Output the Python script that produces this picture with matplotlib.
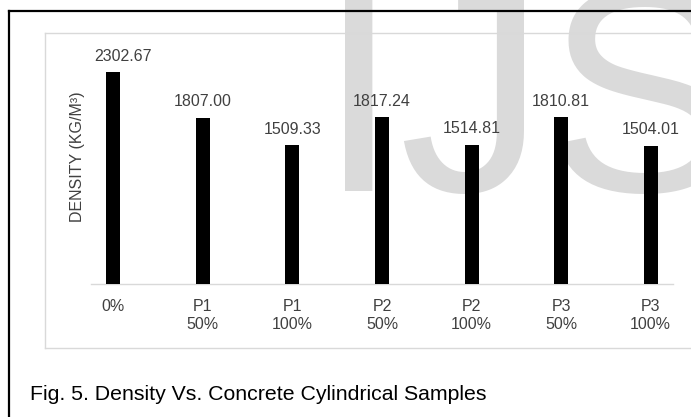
import matplotlib
matplotlib.use("Agg")
import matplotlib.pyplot as plt
from matplotlib.lines import Line2D

categories = ["0%", "P1\n50%", "P1\n100%", "P2\n50%", "P2\n100%", "P3\n50%", "P3\n100%"]
density = [2302.67, 1807.00, 1509.33, 1817.24, 1514.81, 1810.81, 1504.01]
value_labels = ["2302.67", "1807.00", "1509.33", "1817.24", "1514.81", "1810.81", "1504.01"]
y_label = "DENSITY (KG/M³)"
caption = "Fig. 5. Density Vs. Concrete Cylindrical Samples"
watermark = "IJS"

W, H = 691, 417
FONT = "Liberation Sans"
plt.rcParams["font.family"] = [FONT, "DejaVu Sans"]

fig = plt.figure(figsize=(W / 100, H / 100), dpi=100)
fig.patch.set_facecolor("white")

def fx(px):
    return px / W

def fy(py):
    return 1 - py / H

# watermark behind everything
fig.text(fx(318), fy(191), watermark, fontsize=211, color="#dadada",
         ha="left", va="baseline", zorder=-10, family=FONT)

# outer black frame (left and top visible)
fig.add_artist(Line2D([fx(9), fx(9)], [fy(11), fy(H + 5)], color="black", lw=1.6, zorder=5))
fig.add_artist(Line2D([fx(9), fx(W + 5)], [fy(11), fy(11)], color="black", lw=1.6, zorder=5))

# inner light-gray chart box
box_c = "#d9d9d9"
fig.add_artist(Line2D([fx(45), fx(45)], [fy(33), fy(348)], color=box_c, lw=1.0, zorder=1))
fig.add_artist(Line2D([fx(45), fx(W + 5)], [fy(33), fy(33)], color=box_c, lw=1.0, zorder=1))
fig.add_artist(Line2D([fx(45), fx(W + 5)], [fy(348), fy(348)], color=box_c, lw=1.0, zorder=1))

ymax = 2600
top_px = 284 - ymax / 10.86
ax = fig.add_axes([fx(91), fy(284), fx(673) - fx(91), (284 - top_px) / H])
ax.set_facecolor("none")
x = list(range(len(categories)))
bars = ax.bar(x, density, width=0.156, color="black", zorder=3)
ax.set_xlim(-0.25, len(categories) - 0.75)
ax.set_ylim(0, ymax)
for s in ["top", "right", "left"]:
    ax.spines[s].set_visible(False)
ax.spines["bottom"].set_color(box_c)
ax.spines["bottom"].set_linewidth(1.0)
ax.set_yticks([])
ax.set_xticks(x)
ax.set_xticklabels(categories, fontsize=11.5, color="#404040", linespacing=1.2)
ax.tick_params(axis="x", length=0, pad=11)

for i, (xi, v, lab) in enumerate(zip(x, density, value_labels)):
    dx = 7.2 if i == 0 else 0  # first label nudged right as in the original
    ax.annotate(lab, (xi, v), xytext=(dx, 8), textcoords="offset points",
                ha="center", va="baseline", fontsize=11.5, color="#404040")

fig.text(fx(77.5), fy(157), y_label, rotation=90, ha="center", va="center",
         fontsize=11.5, color="#404040")

fig.text(fx(30), fy(400), caption, ha="left", va="baseline", fontsize=15.3, color="black")

fig.savefig("out.png", dpi=100)
